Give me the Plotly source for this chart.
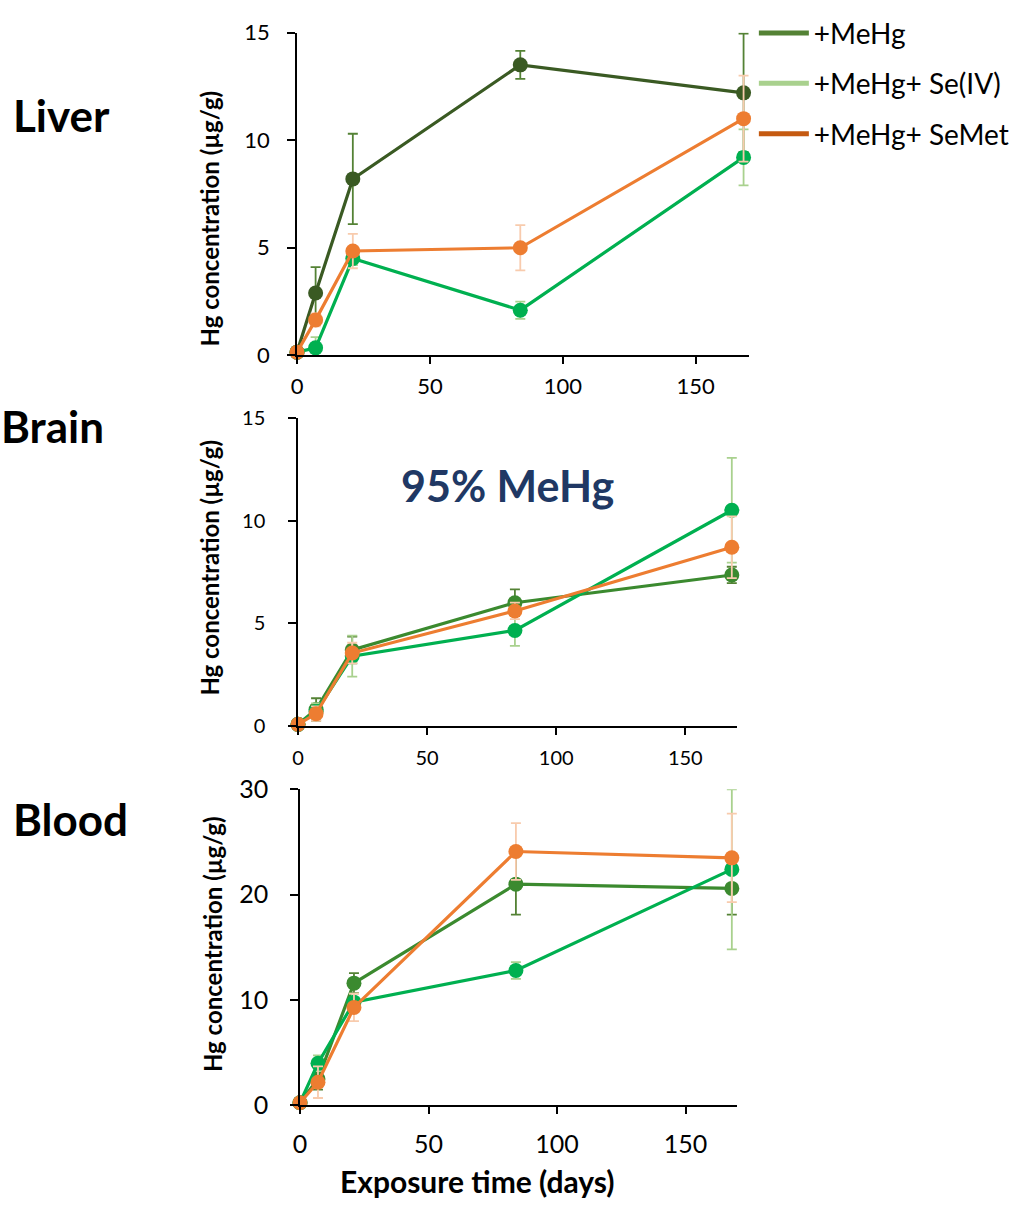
import plotly.graph_objects as go

FONT = "Lato"

days = [0, 7, 21, 84, 168]

series_names = ["+MeHg", "+MeHg+ Se(IV)", "+MeHg+ SeMet"]
legend_colors = ["#548235", "#A9D18E", "#C55A11"]

# Liver
liver_mehg = [0.15, 2.9, 8.2, 13.5, 12.2]
liver_mehg_err = [0.1, 1.2, 2.1, 0.65, 2.75]
liver_se4 = [0.15, 0.35, 4.5, 2.1, 9.2]
liver_se4_err = [0.05, 0.5, 0.3, 0.4, 1.3]
liver_semet = [0.15, 1.65, 4.85, 5.0, 11.0]
liver_semet_err = [0.05, 0.3, 0.8, 1.05, 2.0]

# Brain
brain_mehg = [0.08, 0.8, 3.7, 6.0, 7.35]
brain_mehg_err = [0.05, 0.55, 0.65, 0.65, 0.4]
brain_se4 = [0.08, 0.7, 3.4, 4.65, 10.5]
brain_se4_err = [0.05, 0.4, 1.0, 0.75, 2.55]
brain_semet = [0.08, 0.6, 3.55, 5.6, 8.7]
brain_semet_err = [0.05, 0.35, 0.5, 0.4, 1.5]

# Blood
blood_mehg = [0.25, 2.5, 11.6, 21.0, 20.6]
blood_mehg_err = [0.1, 1.0, 0.95, 2.9, 2.5]
blood_se4 = [0.25, 4.0, 9.8, 12.8, 22.4]
blood_se4_err = [0.1, 0.75, 0.8, 0.8, 7.6]
blood_semet = [0.25, 2.2, 9.3, 24.1, 23.5]
blood_semet_err = [0.1, 1.5, 1.3, 2.7, 4.2]

panel_titles = ["Liver", "Brain", "Blood"]
y_title = "Hg concentration (µg/g)"
x_title = "Exposure time (days)"
annotation_text = "95% MeHg"

x_ticks = [0, 50, 100, 150]
liver_yticks = [0, 5, 10, 15]
brain_yticks = [0, 5, 10, 15]
blood_yticks = [0, 10, 20, 30]

W, H = 1024, 1212

fig = go.Figure()

err_colors = ["#548235", "#A9D18E", "#F8CBAD"]
line_colors_liver = ["#3A5A23", "#00B050", "#ED7D31"]
line_colors_other = ["#3B8A2F", "#00B050", "#ED7D31"]


def add_panel(ax, ys, errs, line_colors):
    xa = "x" if ax == 1 else f"x{ax}"
    ya = "y" if ax == 1 else f"y{ax}"
    for i, (y, e) in enumerate(zip(ys, errs)):
        fig.add_trace(go.Scatter(
            x=days, y=y, mode="lines+markers",
            line=dict(color=line_colors[i], width=3.2),
            marker=dict(color=line_colors[i], size=15),
            error_y=dict(type="data", array=e, color=err_colors[i],
                         thickness=1.8, width=5),
            cliponaxis=False, showlegend=False,
            xaxis=xa, yaxis=ya,
        ))


add_panel(1, [liver_mehg, liver_se4, liver_semet],
          [liver_mehg_err, liver_se4_err, liver_semet_err], line_colors_liver)
add_panel(2, [brain_mehg, brain_se4, brain_semet],
          [brain_mehg_err, brain_se4_err, brain_semet_err], line_colors_other)
add_panel(3, [blood_mehg, blood_se4, blood_semet],
          [blood_mehg_err, blood_se4_err, blood_semet_err], line_colors_other)

# legend entries
for i, name in enumerate(series_names):
    fig.add_trace(go.Scatter(
        x=[None], y=[None], mode="lines", name=name,
        line=dict(color=legend_colors[i], width=5),
        legendgroup=f"g{i}", showlegend=True,
    ))


def px_x(p):
    return p / W


def px_y(p):
    return 1 - p / H


panels = [
    dict(x0=292, x1=747, y0=17, y1=348, yr=[0, 15], ticks=liver_yticks, fs=22, yso=13, xso=3),
    dict(x0=293, x1=735, y0=412, y1=728, yr=[0, 15], ticks=brain_yticks, fs=20, yso=19, xso=6),
    dict(x0=295, x1=735, y0=793, y1=1117, yr=[0, 30], ticks=blood_yticks, fs=25, yso=17, xso=9),
]

layout = dict(
    width=W, height=H,
    margin=dict(l=0, r=0, t=0, b=0),
    paper_bgcolor="white", plot_bgcolor="white",
    font=dict(family=FONT, color="black"),
    showlegend=True,
    legend=dict(
        x=px_x(752), y=px_y(-8), xanchor="left", yanchor="top",
        font=dict(size=28, family=FONT, color="black"),
        tracegroupgap=11, itemwidth=50,
        bgcolor="rgba(0,0,0,0)",
    ),
)

for k, p in enumerate(panels, start=1):
    xk = "xaxis" if k == 1 else f"xaxis{k}"
    yk = "yaxis" if k == 1 else f"yaxis{k}"
    xref = "x" if k == 1 else f"x{k}"
    yref = "y" if k == 1 else f"y{k}"
    layout[xk] = dict(
        domain=[px_x(p["x0"]), px_x(p["x1"])],
        anchor=yref, range=[0, 170],
        tickvals=x_ticks, ticks="outside", ticklen=7, tickwidth=1.5,
        tickcolor="black", showline=True, linecolor="black", linewidth=1.5,
        showgrid=False, zeroline=False,
        tickfont=dict(size=p["fs"], family=FONT, color="black"),
        ticklabelstandoff=p["xso"],
    )
    layout[yk] = dict(
        domain=[px_y(p["y1"]), px_y(p["y0"])],
        anchor=xref, range=p["yr"],
        tickvals=p["ticks"], ticks="outside", ticklen=8, tickwidth=1.5,
        tickcolor="black", showline=True, linecolor="black", linewidth=1.5,
        showgrid=False, zeroline=False,
        tickfont=dict(size=p["fs"], family=FONT, color="black"),
        ticklabelstandoff=p["yso"],
    )

fig.update_layout(**layout)

annotations = []
title_pos = [(55, 102), (46, 420), (64, 823)]
for t, (cx, cy) in zip(panel_titles, title_pos):
    annotations.append(dict(
        text=f"<b>{t}</b>", x=px_x(cx), y=px_y(cy), xref="paper", yref="paper",
        showarrow=False, font=dict(size=44, family=FONT, color="black"),
        xanchor="center", yanchor="middle",
    ))

ytitle_pos = [(204, 208), (204, 566), (207, 952)]
for cx, cy in ytitle_pos:
    annotations.append(dict(
        text=f"<b>{y_title}</b>", x=px_x(cx), y=px_y(cy), xref="paper", yref="paper",
        showarrow=False, textangle=-90, font=dict(size=24, family=FONT, color="black"),
        xanchor="center", yanchor="middle",
    ))

annotations.append(dict(
    text=f"<b>{x_title}</b>", x=px_x(474), y=px_y(1195), xref="paper", yref="paper",
    showarrow=False, font=dict(size=30, family=FONT, color="black"),
    xanchor="center", yanchor="middle",
))

annotations.append(dict(
    text=f"<b>{annotation_text}</b>", x=px_x(504), y=px_y(481), xref="paper", yref="paper",
    showarrow=False, font=dict(size=43, family=FONT, color="#203864"),
    xanchor="center", yanchor="middle",
))

fig.update_layout(annotations=annotations)

fig.write_html("out.html")
